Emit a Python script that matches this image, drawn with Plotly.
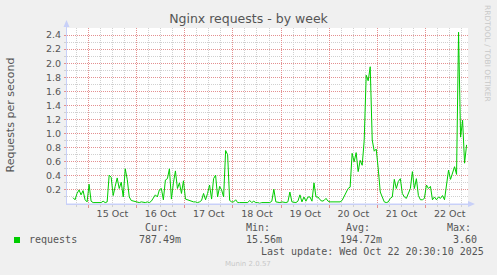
import pandas as pd
import plotly.graph_objects as go

# ---------------- data ----------------
start_time = "2025-10-14 13:24"          # first sample (hourly)
requests = [
    None, None, None, 0.09, 0.06, 0.15, 0.20, 0.13, 0.19, 0.06,   # h0-9
    0.03, 0.28, 0.04, 0.02, 0.02, 0.02, 0.02, 0.02, 0.04, 0.02,   # h10-19
    0.03, 0.41, 0.38, 0.12, 0.25, 0.37, 0.22, 0.31, 0.10, 0.50,   # h20-29
    0.35, 0.10, 0.05, 0.04, 0.04, 0.03, 0.02, 0.03, 0.02, 0.02,   # h30-39
    0.03, 0.02, 0.04, 0.08, 0.13, 0.10, 0.20, 0.22, 0.06, 0.34,   # h40-49
    0.36, 0.50, 0.07, 0.30, 0.47, 0.22, 0.30, 0.15, 0.33, 0.07,   # h50-59
    0.06, 0.04, 0.03, 0.03, 0.03, 0.02, 0.03, 0.05, 0.15, 0.06,   # h60-69
    0.15, 0.27, 0.07, 0.36, 0.41, 0.10, 0.25, 0.20, 0.10, 0.76,   # h70-79
    0.70, 0.05, 0.03, 0.03, 0.06, 0.02, 0.02, 0.02, 0.01, 0.02,   # h80-89
    0.02, 0.05, 0.02, 0.04, 0.02, 0.02, 0.01, 0.02, 0.02, 0.02,   # h90-99
    0.02, 0.02, 0.04, 0.21, 0.03, 0.02, 0.02, 0.03, 0.02, 0.02,   # h100-109
    0.03, 0.17, 0.03, 0.03, 0.02, 0.04, 0.13, 0.03, 0.10, 0.04,   # h110-119
    0.10, 0.10, 0.04, 0.30, 0.10, 0.10, 0.06, 0.04, 0.05, 0.08,   # h120-129
    0.04, 0.03, 0.03, 0.04, 0.03, 0.04, 0.03, 0.05, 0.10, 0.17,   # h130-139
    0.22, 0.24, 0.72, 0.60, 0.73, 0.46, 0.62, 0.55, 0.90, 1.83,   # h140-149
    1.75, 1.95, 0.91, 0.75, 0.78, 0.50, 0.17, 0.10, 0.03, 0.02,   # h150-159
    0.03, 0.08, 0.10, 0.35, 0.22, 0.32, 0.36, 0.15, 0.10, 0.08,   # h160-169
    0.15, 0.22, 0.46, 0.22, 0.36, 0.12, 0.06, 0.06, 0.08, 0.27,   # h170-179
    0.22, 0.25, 0.06, 0.10, 0.06, 0.10, 0.08, 0.12, 0.06, 0.27,   # h180-189
    0.48, 0.35, 0.43, 0.53, 0.42, 2.44, 0.95, 1.19, 0.58, 0.84,   # h190-199
]
y_ticks = [0.2, 0.4, 0.6, 0.8, 1.0, 1.2, 1.4, 1.6, 1.8, 2.0, 2.2, 2.4]
x_range = ["2025-10-14 13:24", "2025-10-22 21:06"]
y_range = [0, 2.5]

title_text = "Nginx requests - by week"
y_title = "Requests per second"
series_name = "requests"
stat_labels = ["Cur:", "Min:", "Avg:", "Max:"]
stat_values = ["787.49m", "15.56m", "194.72m", "3.60"]
last_update = "Last update: Wed Oct 22 20:30:10 2025"
credit_side = "RRDTOOL / TOBI OETIKER"
credit_bottom = "Munin 2.0.57"

# ---------------- layout geometry ----------------
W, H = 497, 275
L, R, T, B = 67, 29, 28, 71
PW, PH = W - L - R, H - T - B


def px(x):
    return (x - L) / PW


def py(y):
    return (T + PH - y) / PH


times = pd.date_range(start_time, periods=len(requests), freq="h")

# 6-hour minor grid positions that are not day boundaries
six_hours = pd.date_range("2025-10-14 00:00", "2025-10-23 00:00", freq="6h")
minor_x = [t for t in six_hours if t.hour != 0]
minor_y = [v / 10 for v in range(1, 25, 2)]

LINE = "#00CC00"
TXT = "#555555"
AXIS = "#C8D0F8"
MAJ = "#E49090"
MIN = "#D0D0D0"
DASH = "1px,1px"

fig = go.Figure()
fig.add_trace(go.Scatter(
    x=times, y=requests, mode="lines", name=series_name,
    line=dict(color=LINE, width=1), connectgaps=False, showlegend=False,
    hoverinfo="x+y",
))

fig.update_layout(
    width=W, height=H, autosize=False,
    margin=dict(l=L, r=R, t=T, b=B, pad=0),
    paper_bgcolor="#F0F0F0", plot_bgcolor="#FFFFFF",
    font=dict(family="DejaVu Sans", size=9.5, color=TXT),
    title=dict(text=title_text, x=0.5, xref="container", xanchor="center",
               y=1 - 19 / H, yref="container", yanchor="middle",
               font=dict(family="DejaVu Sans", size=12.5, color=TXT)),
    showlegend=False,
)

fig.update_xaxes(
    type="date", range=x_range,
    tickmode="linear", tick0="2025-10-14 00:00", dtick=86400000,
    ticklabelmode="period", tickformat="%d %b",
    showgrid=True, gridcolor=MAJ, griddash=DASH, gridwidth=1,
    ticks="outside", ticklen=3, tickcolor=MAJ, tickwidth=1,
    ticklabelstandoff=-2,
    minor=dict(tickmode="array", tickvals=minor_x, showgrid=True,
               gridcolor=MIN, griddash=DASH, gridwidth=1,
               ticks="outside", ticklen=2, tickcolor=MIN),
    showline=True, linecolor=AXIS, linewidth=1,
    zeroline=False, fixedrange=True,
    tickfont=dict(family="DejaVu Sans", size=9.5, color=TXT),
)

fig.update_yaxes(
    range=y_range, tickmode="array", tickvals=y_ticks, tickformat=".1f",
    showgrid=True, gridcolor=MAJ, griddash=DASH, gridwidth=1,
    ticks="outside", ticklen=2, tickcolor=MAJ,
    ticklabelstandoff=1,
    minor=dict(tickmode="array", tickvals=minor_y, showgrid=True,
               gridcolor=MIN, griddash=DASH, gridwidth=1,
               ticks="outside", ticklen=2, tickcolor=MIN),
    showline=True, linecolor=AXIS, linewidth=1,
    zeroline=False, fixedrange=True,
    tickfont=dict(family="DejaVu Sans", size=9.5, color=TXT),
)

shapes = []
# axis extensions and arrow heads
shapes.append(dict(type="line", xref="paper", yref="paper",
                   x0=px(66.5), x1=px(66.5), y0=py(204), y1=py(24),
                   line=dict(color=AXIS, width=1)))
shapes.append(dict(type="path", xref="paper", yref="paper",
                   path=f"M {px(63.5)} {py(27)} L {px(69.5)} {py(27)} L {px(66.5)} {py(20)} Z",
                   fillcolor=AXIS, line=dict(color=AXIS, width=0)))
shapes.append(dict(type="line", xref="paper", yref="paper",
                   x0=px(66), x1=px(470), y0=py(204), y1=py(204),
                   line=dict(color=AXIS, width=1)))
shapes.append(dict(type="path", xref="paper", yref="paper",
                   path=f"M {px(468)} {py(201)} L {px(468)} {py(207)} L {px(475)} {py(204)} Z",
                   fillcolor=AXIS, line=dict(color=AXIS, width=0)))
# legend swatch
shapes.append(dict(type="rect", xref="paper", yref="paper",
                   x0=px(14), x1=px(20), y0=py(243), y1=py(237),
                   fillcolor=LINE, line=dict(color=LINE, width=0)))
fig.update_layout(shapes=shapes)

MONO = dict(family="DejaVu Sans Mono", size=10, color=TXT)
ann = []


def add_text(text, x, y, xanchor="center", font=MONO, angle=0):
    ann.append(dict(text=text, x=px(x), y=py(y), xref="paper", yref="paper",
                    xanchor=xanchor, yanchor="middle", showarrow=False,
                    font=font, textangle=angle))


add_text(y_title, 10.5, 115,
         font=dict(family="DejaVu Sans", size=11, color=TXT), angle=-90)
add_text(credit_side, 488, 53,
         font=dict(family="DejaVu Sans", size=7.5, color="#C8C8C8"), angle=90)
add_text(series_name, 26.5, 239.5, xanchor="left")
label_x = [157, 257.5, 358, 458.7]
value_x = [160, 264, 361, 465.3]
for lab, lx in zip(stat_labels, label_x):
    add_text(lab, lx, 228)
for val, vx in zip(stat_values, value_x):
    add_text(val, vx, 239.5)
add_text(last_update, 372.5, 251)
add_text(credit_bottom, 248, 264,
         font=dict(family="DejaVu Sans", size=7, color="#C8C8C8"))
fig.update_layout(annotations=ann)

fig.write_html("out.html", config={"displayModeBar": False})
